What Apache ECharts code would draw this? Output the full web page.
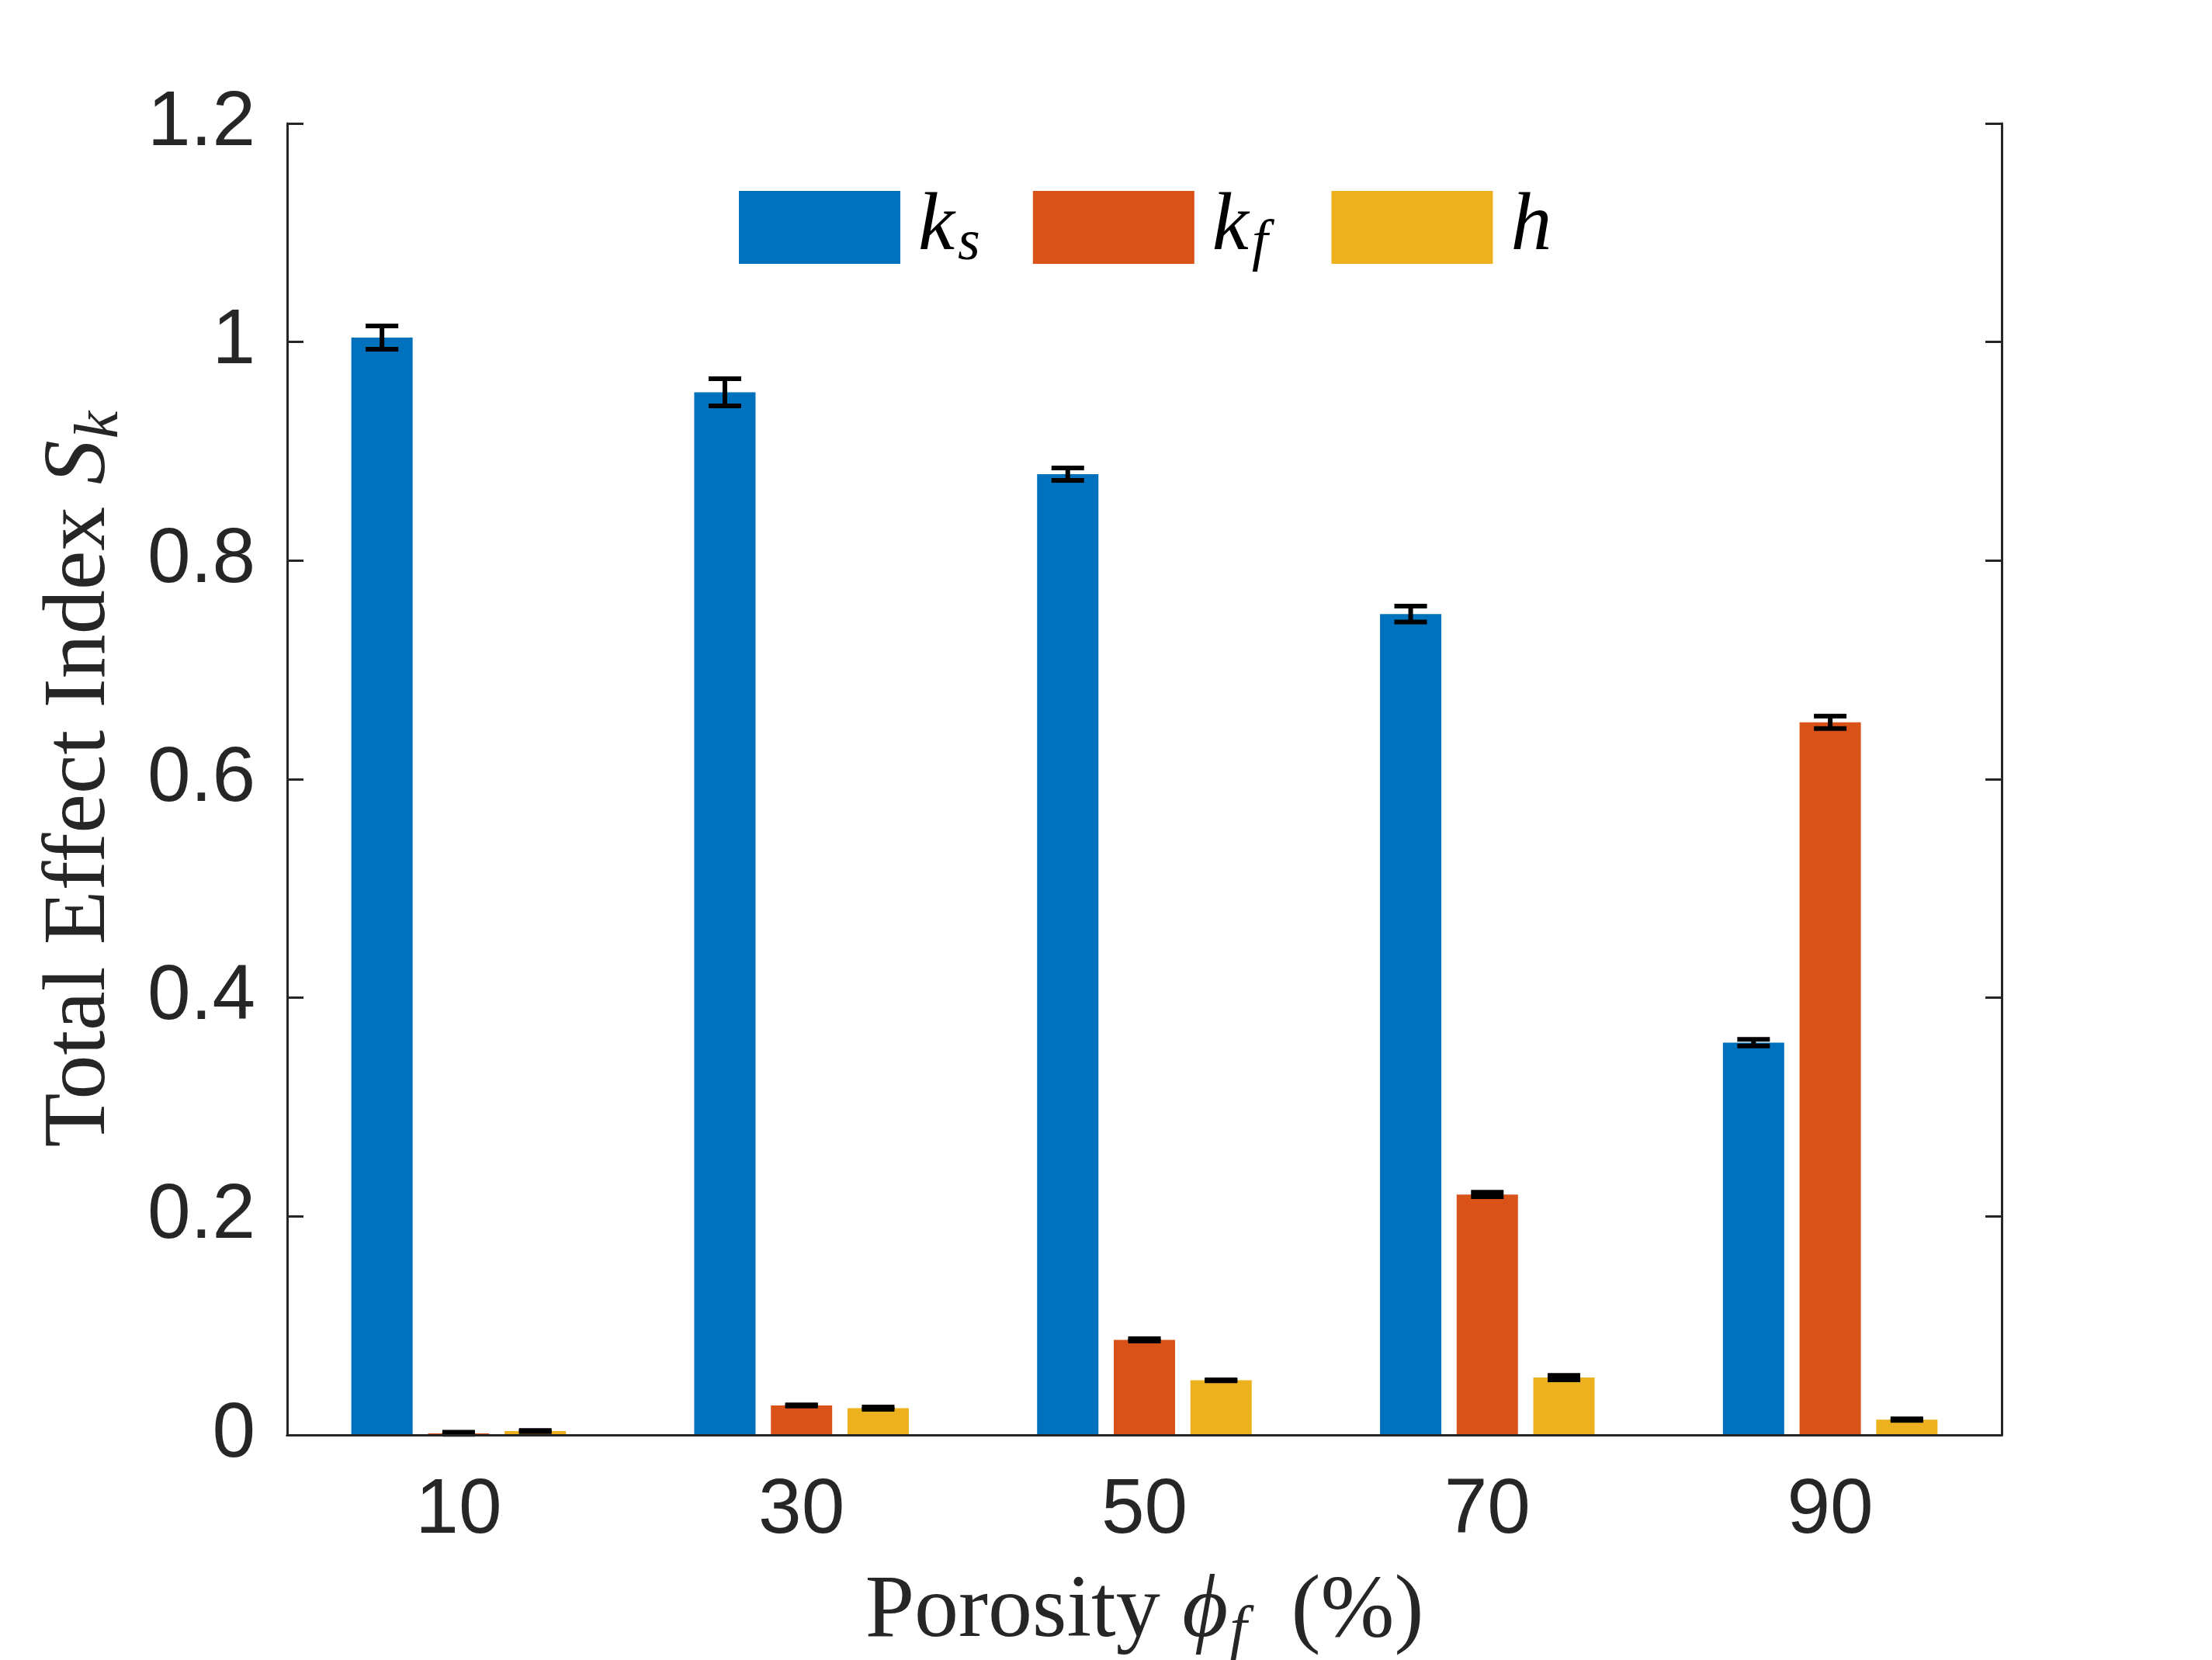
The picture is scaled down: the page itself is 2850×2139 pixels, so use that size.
<!DOCTYPE html>
<html>
<head>
<meta charset="utf-8">
<script src="https://cdn.jsdelivr.net/npm/echarts@6/dist/echarts.min.js"></script>
<style>
    html, body { margin: 0; padding: 0; background: #fff; }
    #chartmain { width: 2850px; height: 2139px; }
</style>
</head>
<body>
<div id="chartmain"></div>
<script>
// porosity categories (%)
var porosity = ['10', '30', '50', '70', '90'];

// total effect index per parameter
var ksValues = [1.004, 0.954, 0.879, 0.751, 0.359];
var kfValues = [0.0015, 0.027, 0.087, 0.220, 0.652];
var hValues  = [0.0035, 0.0245, 0.050, 0.0525, 0.014];

// half width of the error bars
var ksErr = [0.0107, 0.0124, 0.0057, 0.0073, 0.0030];
var kfErr = [0.0010, 0.0005, 0.0010, 0.0020, 0.0057];
var hErr  = [0.0005, 0.0010, 0.0005, 0.0020, 0.0007];

var yTicks = [0, 0.2, 0.4, 0.6, 0.8, 1, 1.2];

var colors = ['#0072BD', '#D95319', '#EDB120'];
var axisColor = '#262626';
var BAR_W = 79;
var BAR_GAP = 0.25;

function errData(vals, errs) {
    var out = [];
    for (var i = 0; i < vals.length; i++) {
        out.push([i, vals[i] - errs[i], vals[i] + errs[i]]);
    }
    return out;
}

function errSeries(idx, vals, errs) {
    return {
        type: 'custom',
        name: 'err' + idx,
        z: 4,
        data: errData(vals, errs),
        renderItem: function (params, api) {
            var offset = (idx - 1) * BAR_W * (1 + BAR_GAP);
            var x = api.coord([api.value(0), 0])[0] + offset;
            var lo = api.coord([api.value(0), Math.max(api.value(1), 0)])[1];
            var hi = api.coord([api.value(0), api.value(2)])[1];
            var half = 21;
            var st = { stroke: '#000', lineWidth: 6, fill: null };
            return {
                type: 'group',
                children: [
                    { type: 'line', shape: { x1: x, y1: lo, x2: x, y2: hi }, style: st },
                    { type: 'line', shape: { x1: x - half, y1: hi, x2: x + half, y2: hi }, style: st },
                    { type: 'line', shape: { x1: x - half, y1: lo, x2: x + half, y2: lo }, style: st }
                ]
            };
        }
    };
}

var legendText = {
    'ks': '{k|k}{sub|s}',
    'kf': '{k|k}{subf|f}',
    'h': '{k|h}'
};

var serifFont = '"Liberation Serif", "DejaVu Serif", serif';
var sansFont = '"Liberation Sans", Arial, sans-serif';

option = {
    animation: false,
    backgroundColor: '#ffffff',
    color: colors,
    grid: {
        left: 370,
        right: 271,
        top: 159,
        bottom: 290,
        containLabel: false,
        outerBoundsMode: 'none'
    },
    legend: {
        data: ['ks', 'kf', 'h'],
        left: 947,
        top: 229,
        orient: 'horizontal',
        icon: 'rect',
        itemWidth: 208,
        itemHeight: 94,
        itemGap: 68,
        formatter: function (name) {
            return legendText[name];
        },
        textStyle: {
            color: '#000',
            rich: {
                k: { fontFamily: serifFont, fontStyle: 'italic', fontSize: 106, lineHeight: 106, padding: [0, 0, 0, 18], color: '#000' },
                sub: { fontFamily: serifFont, fontStyle: 'italic', fontSize: 74, lineHeight: 74, padding: [44, 0, 0, 4], color: '#000' },
                subf: { fontFamily: serifFont, fontStyle: 'italic', fontSize: 74, lineHeight: 74, padding: [44, 14, 0, 4], color: '#000' }
            }
        }
    },
    xAxis: [
        {
            type: 'category',
            data: porosity,
            position: 'bottom',
            z: 10,
            name: '{t|Porosity }{k|ϕ}{sub|f}{t|  (%)}',
            nameLocation: 'middle',
            nameGap: 163,
            nameTextStyle: {
                rich: {
                    t: { fontFamily: serifFont, fontSize: 114, color: axisColor },
                    k: { fontFamily: serifFont, fontStyle: 'italic', fontSize: 114, color: axisColor },
                    sub: { fontFamily: serifFont, fontStyle: 'italic', fontSize: 80, padding: [52, 0, 0, 2], color: axisColor }
                }
            },
            axisLine: { lineStyle: { color: axisColor, width: 3 } },
            axisTick: { inside: true, alignWithLabel: true, length: 22, lineStyle: { color: axisColor, width: 3 } },
            axisLabel: { margin: 48, fontFamily: sansFont, fontSize: 100, color: axisColor },
            splitLine: { show: false }
        },
        {
            type: 'category',
            data: porosity,
            position: 'top',
            z: 10,
            axisLine: { lineStyle: { color: axisColor, width: 3 } },
            axisTick: { inside: true, alignWithLabel: true, length: 22, lineStyle: { color: axisColor, width: 3 } },
            axisLabel: { show: false },
            splitLine: { show: false }
        }
    ],
    yAxis: [
        {
            type: 'value',
            min: yTicks[0],
            max: yTicks[yTicks.length - 1],
            interval: 0.2,
            position: 'left',
            z: 10,
            name: '{t|Total Effect Index }{s|S}{sub|k}',
            nameLocation: 'middle',
            nameRotate: 90,
            nameGap: 200,
            nameTextStyle: {
                rich: {
                    t: { fontFamily: serifFont, fontSize: 114, color: axisColor },
                    s: { fontFamily: serifFont, fontStyle: 'italic', fontSize: 114, color: axisColor },
                    sub: { fontFamily: serifFont, fontStyle: 'italic', fontSize: 80, padding: [52, 0, 0, 2], color: axisColor }
                }
            },
            axisLine: { show: true, lineStyle: { color: axisColor, width: 3 } },
            axisTick: { show: true, inside: true, length: 21, lineStyle: { color: axisColor, width: 3 } },
            axisLabel: {
                margin: 41,
                fontFamily: sansFont,
                fontSize: 100,
                color: axisColor,
                formatter: function (v) {
                    return String(Math.round(v * 10) / 10);
                }
            },
            splitLine: { show: false }
        },
        {
            type: 'value',
            min: yTicks[0],
            max: yTicks[yTicks.length - 1],
            interval: 0.2,
            position: 'right',
            z: 10,
            axisLine: { show: true, lineStyle: { color: axisColor, width: 3 } },
            axisTick: { show: true, inside: true, length: 21, lineStyle: { color: axisColor, width: 3 } },
            axisLabel: { show: false },
            splitLine: { show: false }
        }
    ],
    series: [
        { name: 'ks', type: 'bar', barWidth: BAR_W, barGap: (BAR_GAP * 100) + '%', data: ksValues, itemStyle: { color: colors[0] } },
        { name: 'kf', type: 'bar', barWidth: BAR_W, barGap: (BAR_GAP * 100) + '%', data: kfValues, itemStyle: { color: colors[1] } },
        { name: 'h', type: 'bar', barWidth: BAR_W, barGap: (BAR_GAP * 100) + '%', data: hValues, itemStyle: { color: colors[2] } },
        errSeries(0, ksValues, ksErr),
        errSeries(1, kfValues, kfErr),
        errSeries(2, hValues, hErr)
    ]
};

var myChart = echarts.init(document.getElementById('chartmain'));
myChart.setOption(option);
</script>
</body>
</html>
